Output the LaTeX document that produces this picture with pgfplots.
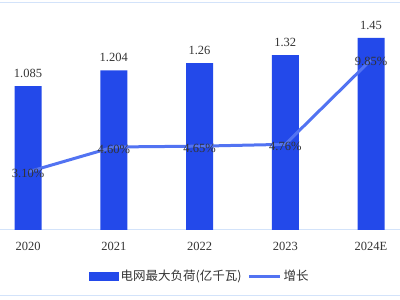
\documentclass[border=0pt]{standalone}
\usepackage{fontspec}
\setmainfont{Liberation Serif}
\newfontfamily\cjk{Noto Sans CJK SC}
\usepackage{pgfplots}
\pgfplotsset{compat=1.18}
\definecolor{barblue}{HTML}{2349EA}
\definecolor{lineblue}{HTML}{5273F2}
\definecolor{framebl}{HTML}{D3E3FA}
\definecolor{txt}{HTML}{333333}
\pgfplotstableread{
x y lab
0 1.085 1.085
1 1.204 1.204
2 1.26 1.26
3 1.32 1.32
4 1.45 1.45
}\loaddata
\pgfplotstableread{
x y
0 3.10
1 4.60
2 4.65
3 4.76
4 9.85
}\growdata
\begin{document}
\begin{tikzpicture}[x=1pt,y=1pt]
\path[use as bounding box] (0,-70) rectangle (400,230);
\draw[framebl, line width=1pt] (0,227) -- (400,227);
\draw[framebl, line width=1pt] (0,-66) -- (400,-66);
\begin{axis}[at={(0,0)}, anchor=south west, scale only axis,
  width=400pt, height=212pt,
  xmin=-0.327, xmax=4.338, ymin=0, ymax=1.6,
  axis x line*=bottom, axis y line=none,
  x axis line style={framebl, line width=1pt, -},
  xtick={0,1,2,3,4}, xticklabels={2020,2021,2022,2023,2024E},
  major tick length=0pt, ytick=\empty,
  xticklabel style={font=\fontsize{12.5}{14}\selectfont, text=txt, yshift=-9pt},
  ybar, bar width=27pt,
  nodes near coords, point meta=explicit symbolic,
  every node near coord/.append style={font=\fontsize{12.5}{14}\selectfont, text=txt, yshift=5pt},
  clip=false]
\addplot[fill=barblue, draw=none] table[x=x, y=y, meta=lab] {\loaddata};
\end{axis}
\begin{axis}[at={(0,0)}, anchor=south west, scale only axis,
  width=400pt, height=212pt,
  xmin=-0.327, xmax=4.338, ymin=-0.4, ymax=12.37,
  hide axis, clip=false,
  legend style={at={(0.5,-0.217)}, anchor=center, draw=none, fill=none,
    legend columns=2, font=\cjk\fontsize{12.5}{14}\selectfont, text=txt,
    /tikz/every even column/.append style={column sep=4pt},
    inner sep=0pt, cells={anchor=west}},
  ]
\addlegendimage{legend image code/.code={\fill[barblue] (0pt,-4pt) rectangle (29pt,4pt);}}
\addlegendentry{电网最大负荷(亿千瓦)}
\addplot[lineblue, line width=3pt, mark=none,
  legend image code/.code={\draw[lineblue, line width=3pt] (0pt,0pt) -- (31pt,0pt);},
  nodes near coords={\pgfmathprintnumber[fixed, fixed zerofill, precision=2, assume math mode=true]{\pgfplotspointmeta}\%},
  point meta=y,
  every node near coord/.style={anchor=center, yshift=-2pt, font=\fontsize{12.5}{14}\selectfont, text=txt}]
  table[x=x, y=y] {\growdata};
\addlegendentry{增长}
\end{axis}
\end{tikzpicture}
\end{document}
